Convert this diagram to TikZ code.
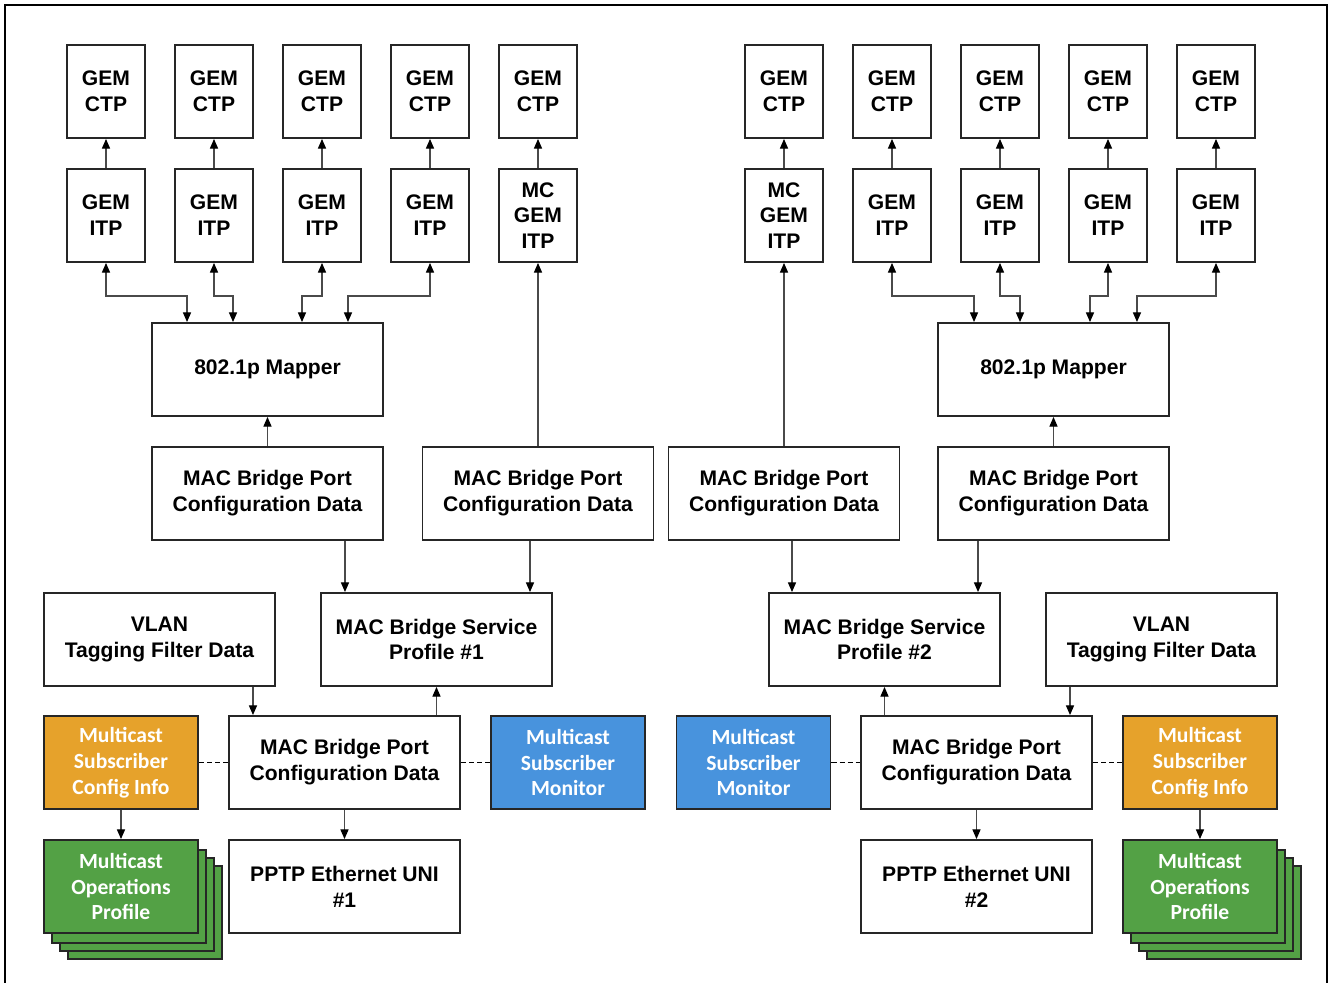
\documentclass[tikz,border=0pt]{standalone}
\usepackage{fontspec}
\setmainfont{Liberation Sans}
\newfontfamily\calfont{Carlito}
\usetikzlibrary{arrows.meta,shadows}

\definecolor{mcorange}{HTML}{E6A22B}
\definecolor{mcblue}{HTML}{4893DD}
\definecolor{mcgreen}{HTML}{53A145}
\definecolor{wire}{HTML}{4A4A4A}

\tikzset{
  box/.style={draw=black!85, line width=1.1pt, minimum width=4.62cm, minimum height=1.86cm,
    inner sep=0pt, align=center, font=\fontsize{12}{14.7}\selectfont\bfseries},
  gem/.style={box, minimum width=1.56cm},
  mcbox/.style={box, minimum width=3.08cm, text=white,
    font=\calfont\fontsize{12.3}{14.7}\selectfont\bfseries},
  cfgbox/.style={mcbox, fill=mcorange},
  monbox/.style={mcbox, fill=mcblue},
  opsbox/.style={mcbox, fill=mcgreen,
    copy shadow={shadow xshift=0.48cm, shadow yshift=-0.52cm, fill=mcgreen, draw=black!85},
    copy shadow={shadow xshift=0.32cm, shadow yshift=-0.36cm, fill=mcgreen, draw=black!85},
    copy shadow={shadow xshift=0.16cm, shadow yshift=-0.20cm, fill=mcgreen, draw=black!85}},
  wire/.style={draw=wire, line width=0.7pt},
  assoc/.style={draw=black, line width=0.9pt, dash pattern=on 3pt off 1.6pt},
}

\begin{document}
\begin{tikzpicture}[x=0.02cm, y=-0.02cm, >={Triangle[length=5.5pt,width=4.6pt,color=black]}]
    \useasboundingbox (0,0) rectangle (1330,983);
    % outer frame
    \draw[line width=0.9pt] (5,1000) -- (5,5) -- (1327,5) -- (1327,1000);

    % GEM ports, left half
    \foreach \i/\x in {1/106,2/214,3/322,4/430,5/538}
        \node[gem] (ctpL\i) at (\x,91.5) {GEM\\CTP};
    \foreach \i/\x in {1/106,2/214,3/322,4/430}
        \node[gem] (itpL\i) at (\x,215.5) {GEM\\ITP};
    \node[gem] (itpL5) at (538,215.5) {MC\\GEM\\ITP};

    % GEM ports, right half
    \foreach \i/\x in {1/784,2/892,3/1000,4/1108,5/1216}
        \node[gem] (ctpR\i) at (\x,91.5) {GEM\\CTP};
    \node[gem] (itpR1) at (784,215.5) {MC\\GEM\\ITP};
    \foreach \i/\x in {2/892,3/1000,4/1108,5/1216}
        \node[gem] (itpR\i) at (\x,215.5) {GEM\\ITP};

    \foreach \i in {1,...,5} {
        \draw[wire,->] (itpL\i) -- (ctpL\i);
        \draw[wire,->] (itpR\i) -- (ctpR\i);
    }

    % mappers
    \node[box] (mapL) at (267.5,369.5) {802.1p Mapper};
    \node[box] (mapR) at (1053.5,369.5) {802.1p Mapper};
    \foreach \i/\dx in {1/-1.61,2/-0.69,3/0.69,4/1.61}
        \draw[wire,<->] (itpL\i.south) -- ++(0,33) -| ([xshift=\dx cm]mapL.north);
    \foreach \i/\dx in {2/-1.59,3/-0.67,4/0.73,5/1.67}
        \draw[wire,<->] (itpR\i.south) -- ++(0,33) -| ([xshift=\dx cm]mapR.north);

    % ANI side bridge ports
    \node[box] (pcL1) at (267.5,493.5) {MAC Bridge Port\\Configuration Data};
    \node[box] (pcL2) at (538,493.5) {MAC Bridge Port\\Configuration Data};
    \node[box] (pcR1) at (784,493.5) {MAC Bridge Port\\Configuration Data};
    \node[box] (pcR2) at (1053.5,493.5) {MAC Bridge Port\\Configuration Data};
    \draw[wire,->] (pcL1) -- (mapL);
    \draw[wire,->] (pcR2) -- (mapR);
    \draw[wire,->] (pcL2) -- (itpL5);
    \draw[wire,->] (pcR1) -- (itpR1);

    % bridges and VLAN filters
    \node[box] (vlanL) at (159.5,639.5) {VLAN\\Tagging Filter Data};
    \node[box] (sp1) at (436.5,639.5) {MAC Bridge Service\\Profile \#1};
    \node[box] (sp2) at (884.5,639.5) {MAC Bridge Service\\Profile \#2};
    \node[box] (vlanR) at (1161.5,639.5) {VLAN\\Tagging Filter Data};
    \draw[wire,->] ([xshift=1.55cm]pcL1.south) -- ([xshift=1.55cm]pcL1.south |- sp1.north);
    \draw[wire,->] ([xshift=-0.16cm]pcL2.south) -- ([xshift=-0.16cm]pcL2.south |- sp1.north);
    \draw[wire,->] ([xshift=0.16cm]pcR1.south) -- ([xshift=0.16cm]pcR1.south |- sp2.north);
    \draw[wire,->] ([xshift=-1.51cm]pcR2.south) -- ([xshift=-1.51cm]pcR2.south |- sp2.north);

    % UNI side bridge ports with multicast MEs
    \node[cfgbox] (mcfgL) at (121,762.5) {Multicast\\Subscriber\\Config Info};
    \node[box] (pcB1) at (344.5,762.5) {MAC Bridge Port\\Configuration Data};
    \node[monbox] (monL) at (568,762.5) {Multicast\\Subscriber\\Monitor};
    \node[monbox] (monR) at (753.5,762.5) {Multicast\\Subscriber\\Monitor};
    \node[box] (pcB2) at (976.5,762.5) {MAC Bridge Port\\Configuration Data};
    \node[cfgbox] (mcfgR) at (1200,762.5) {Multicast\\Subscriber\\Config Info};
    \draw[wire,->] ([xshift=1.87cm]vlanL.south) -- ([xshift=1.87cm]vlanL.south |- pcB1.north);
    \draw[wire,->] ([xshift=-1.83cm]vlanR.south) -- ([xshift=-1.83cm]vlanR.south |- pcB2.north);
    \draw[wire,->] (pcB1.north -| sp1.south) -- (sp1.south);
    \draw[wire,->] (pcB2.north -| sp2.south) -- (sp2.south);
    \draw[assoc] (mcfgL) -- (pcB1);
    \draw[assoc] (pcB1) -- (monL);
    \draw[assoc] (monR) -- (pcB2);
    \draw[assoc] (pcB2) -- (mcfgR);

    % operations profiles and UNIs
    \node[opsbox] (mopL) at (121,886.5) {Multicast\\Operations\\Profile};
    \node[box] (uni1) at (344.5,886.5) {PPTP Ethernet UNI\\\#1};
    \node[box] (uni2) at (976.5,886.5) {PPTP Ethernet UNI\\\#2};
    \node[opsbox] (mopR) at (1200,886.5) {Multicast\\Operations\\Profile};
    \draw[wire,->] (mcfgL) -- (mopL);
    \draw[wire,->] (pcB1) -- (uni1);
    \draw[wire,->] (pcB2) -- (uni2);
    \draw[wire,->] (mcfgR) -- (mopR);
\end{tikzpicture}
\end{document}
